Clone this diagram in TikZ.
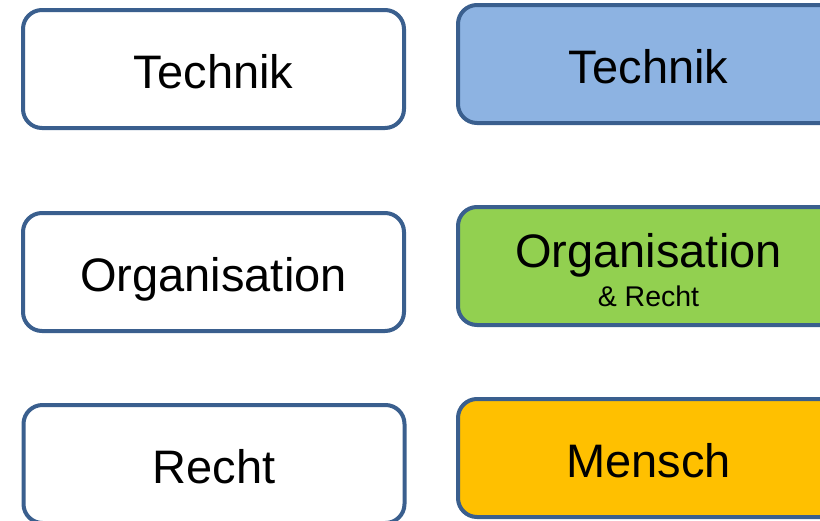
\documentclass[tikz,border=0pt]{standalone}
\usepackage{fontspec}
\setmainfont{Liberation Sans}
\definecolor{edgeblue}{HTML}{3A5F8E}
\definecolor{fillblue}{HTML}{8DB3E2}
\definecolor{fillgreen}{HTML}{92D050}
\definecolor{fillorange}{HTML}{FFC000}
\tikzset{
  box/.style={draw=edgeblue, line width=4pt, rounded corners=19pt, minimum width=381pt, minimum height=118pt, inner sep=0pt, font=\fontsize{47}{56}\selectfont, text height=38pt, text depth=0pt},
  bigtxt/.style={inner sep=0pt, anchor=base, font=\fontsize{47}{56}\selectfont},
  smalltxt/.style={inner sep=0pt, anchor=base, font=\fontsize{28.5}{34}\selectfont}
}
\begin{document}
\begin{tikzpicture}[x=1pt,y=-1pt]
\useasboundingbox (0,0) rectangle (820,520);
\node[box, fill=white] (lt) at (213.5,69) {Technik};
\node[box, fill=white] (lo) at (213.5,272) {Organisation};
\node[box, fill=white] (lr) at (214,464) {Recht};
\node[box, fill=fillblue] (rt) at (648.5,64) {Technik};
\node[box, fill=fillgreen] (ro) at (648.5,266) {};
\node[bigtxt] (rotext) at (648.5,267) {Organisation};
\node[smalltxt] (rosub) at (648.5,306) {\& Recht};
\node[box, fill=fillorange] (rm) at (648.5,458) {Mensch};
\end{tikzpicture}
\end{document}
